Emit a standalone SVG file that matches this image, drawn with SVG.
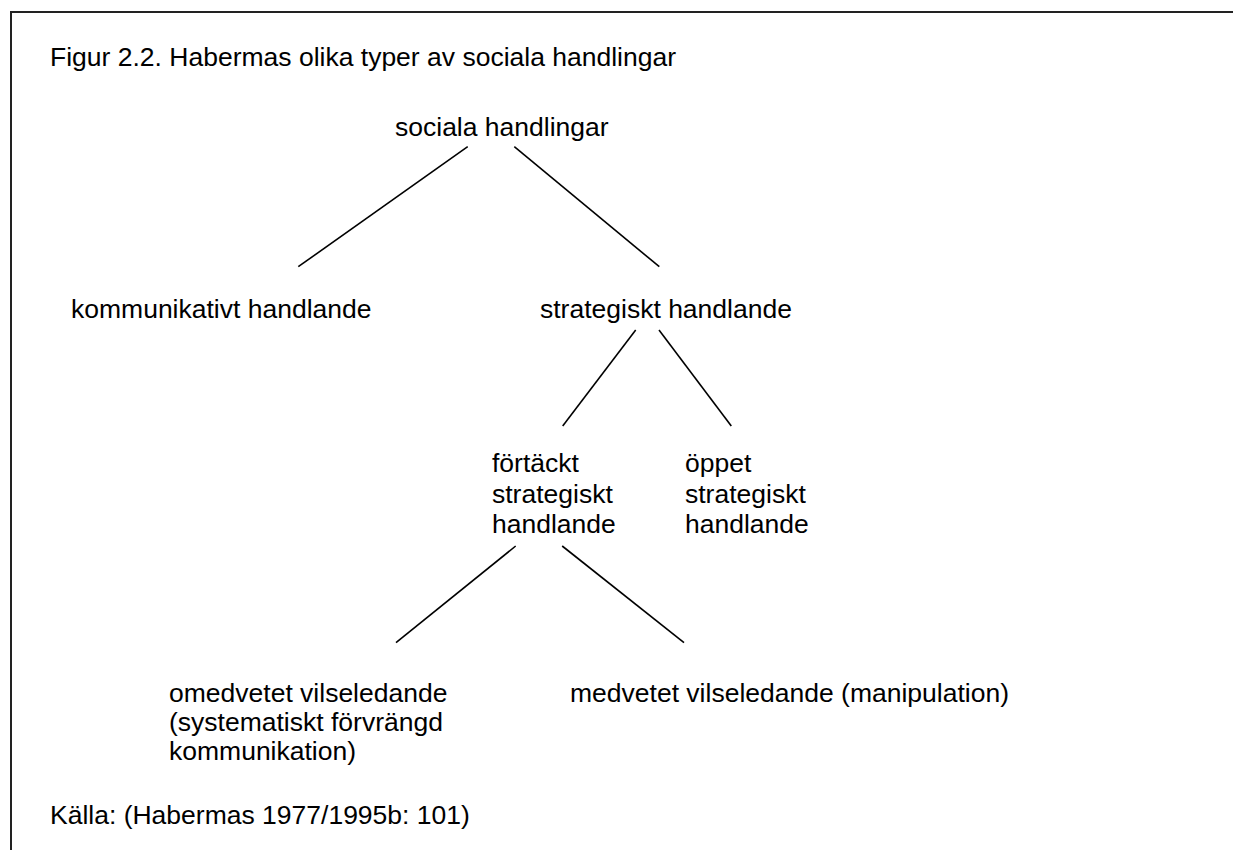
<svg xmlns="http://www.w3.org/2000/svg" width="1233" height="850" viewBox="0 0 1233 850">
<style>
text{font-family:"Liberation Sans",Arial,sans-serif;font-size:26.5px;fill:#000}
.c{stroke:#000;stroke-width:1.6;fill:none}
.frame{stroke:#222;stroke-width:2;fill:none}
</style>
<rect width="1233" height="850" fill="#fff"/>
<path class="frame" d="M11,860 V12 H1245"/>
<text id="title" x="50" y="66">Figur 2.2. Habermas olika typer av sociala handlingar</text>
<g id="connectors">
<line class="c" x1="467.7" y1="146.7" x2="298.3" y2="266.7"/>
<line class="c" x1="514.3" y1="146.7" x2="659.3" y2="266.7"/>
<line class="c" x1="635.7" y1="330" x2="562.7" y2="426"/>
<line class="c" x1="659" y1="330" x2="731.3" y2="426"/>
<line class="c" x1="515.7" y1="546" x2="396" y2="642.7"/>
<line class="c" x1="562.2" y1="546" x2="684" y2="642.7"/>
</g>
<g id="n-sociala"><text x="395" y="136">sociala handlingar</text></g>
<g id="n-kommunikativt"><text x="71" y="318">kommunikativt handlande</text></g>
<g id="n-strategiskt"><text x="540" y="318">strategiskt handlande</text></g>
<g id="n-fortackt"><text x="492" y="472">förtäckt</text><text x="492" y="503">strategiskt</text><text x="492" y="533">handlande</text></g>
<g id="n-oppet"><text x="685" y="472">öppet</text><text x="685" y="503">strategiskt</text><text x="685" y="533">handlande</text></g>
<g id="n-omedvetet"><text x="169" y="702">omedvetet vilseledande</text><text x="169" y="731">(systematiskt förvrängd</text><text x="169" y="760">kommunikation)</text></g>
<g id="n-medvetet"><text x="570" y="702">medvetet vilseledande (manipulation)</text></g>
<text id="source" x="50" y="824">Källa: (Habermas 1977/1995b: 101)</text>
</svg>
